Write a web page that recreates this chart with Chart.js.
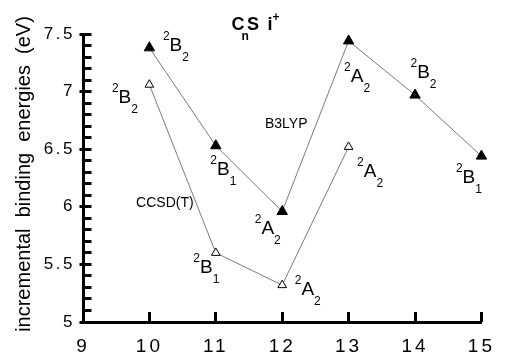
<!DOCTYPE html>
<html>
<head>
<meta charset="utf-8">
<script src="https://cdn.jsdelivr.net/npm/chart.js@4.4.1/dist/chart.umd.min.js"></script>
<style>
  html, body { margin: 0; padding: 0; background: #fff; }
  #wrap { width: 505px; height: 356px; }
</style>
</head>
<body>
<div id="wrap"><canvas id="c" width="505" height="356"></canvas></div>
<script>
// Cluster sizes n of CnSi+ and incremental binding energies (eV)
const b3lypSizes = [10, 11, 12, 13, 14, 15];
const b3lypEnergies = [7.38, 6.53, 5.96, 7.44, 6.97, 6.44];
const b3lypStates = ['²B₂', '²B₁', '²A₂', '²A₂', '²B₂', '²B₁'];

const ccsdtSizes = [10, 11, 12, 13];
const ccsdtEnergies = [7.06, 5.60, 5.32, 6.52];
const ccsdtStates = ['²B₂', '²B₁', '²A₂', '²A₂'];

const xTickValues = [9, 10, 11, 12, 13, 14, 15];
const yTickValues = [5, 5.5, 6, 6.5, 7, 7.5];

// Placement of the state labels around their points (pixels: dx to label start, dy to baseline)
const b3lypLabelOffsets = [[13.5, 3], [-5.5, 29], [-27.5, 23], [-4.5, 41], [-4.5, -17], [-25.5, 27]];
const ccsdtLabelOffsets = [[-37.5, 18], [-22.5, 20], [12.5, 10], [8.5, 30]];

const FAMILY = "'Liberation Sans', Arial, Helvetica, sans-serif";
const TITLE_FAMILY = "'Liberation Sans Narrow', 'Liberation Sans', Arial, sans-serif";

const toPoints = (xs, ys) => xs.map((x, i) => ({ x: x, y: ys[i] }));

const SUP = { '¹': '1', '²': '2', '³': '3', '⁴': '4' };
const SUB = { '₀': '0', '₁': '1', '₂': '2', '₃': '3' };

function drawTerm(ctx, term, x, baseline) {
  const mult = SUP[term[0]] || term[0];
  const sym = term[1];
  const idx = SUB[term[2]] || term[2];
  ctx.font = '12px ' + FAMILY;
  ctx.fillText(mult, x, baseline - 11);
  const w1 = ctx.measureText(mult).width;
  ctx.font = '19px ' + FAMILY;
  ctx.fillText(sym, x + w1, baseline);
  const w2 = ctx.measureText(sym).width;
  ctx.font = '12px ' + FAMILY;
  ctx.fillText(idx, x + w1 + w2, baseline + 10);
}

const decorations = {
  id: 'decorations',
  beforeDraw(chart) { chart.ctx.letterSpacing = '2.5px'; },
  beforeDatasetsDraw(chart) { chart.ctx.letterSpacing = '0px'; },
  afterDatasetsDraw(chart) { chart.ctx.letterSpacing = '3px'; },
  afterDraw(chart) {
    const ctx = chart.ctx;
    const xs = chart.scales.x, ys = chart.scales.y;
    const area = chart.chartArea;
    ctx.save();
    ctx.letterSpacing = '0px';

    // inward tick marks: minor every 0.1 on y, majors crossing the axis
    ctx.strokeStyle = '#000';
    ctx.lineWidth = 3;
    ctx.beginPath();
    for (let k = 0; k <= 25; k++) {
      const v = ys.min + k * 0.1;
      const py = Math.round(ys.getPixelForValue(v) - 1.5) + 1.5;
      const major = k % 5 === 0;
      ctx.moveTo(area.left - (major ? 3.5 : 0), py);
      ctx.lineTo(area.left + 8.5, py);
    }
    xTickValues.forEach(v => {
      const px = Math.round(xs.getPixelForValue(v) - 1.5) + 1.5;
      ctx.moveTo(px, area.bottom);
      ctx.lineTo(px, area.bottom - 10);
    });
    ctx.stroke();

    // electronic state labels
    ctx.fillStyle = '#000';
    ctx.textAlign = 'left';
    ctx.textBaseline = 'alphabetic';
    b3lypStates.forEach((s, i) => {
      const px = xs.getPixelForValue(b3lypSizes[i]);
      const py = ys.getPixelForValue(b3lypEnergies[i]);
      drawTerm(ctx, s, px + b3lypLabelOffsets[i][0], py + b3lypLabelOffsets[i][1]);
    });
    ccsdtStates.forEach((s, i) => {
      const px = xs.getPixelForValue(ccsdtSizes[i]);
      const py = ys.getPixelForValue(ccsdtEnergies[i]);
      drawTerm(ctx, s, px + ccsdtLabelOffsets[i][0], py + ccsdtLabelOffsets[i][1]);
    });

    // method names next to their curves
    ctx.font = '14px ' + FAMILY;
    ctx.fillText('B3LYP', xs.getPixelForValue(11.74), ys.getPixelForValue(6.68));
    ctx.fillText('CCSD(T)', xs.getPixelForValue(9.8), ys.getPixelForValue(6.0));

    // title CnSi+
    const t0 = chart.width / 2 - 21;
    ctx.font = 'bold 18px ' + TITLE_FAMILY;
    ctx.fillText('C', t0, 30);
    ctx.fillText('S', t0 + 15.5, 30);
    ctx.fillText('i', t0 + 36, 30);
    ctx.font = 'bold 12px ' + TITLE_FAMILY;
    ctx.fillText('n', t0 + 10, 40);
    ctx.fillText('+', t0 + 41, 21);

    // y axis title
    ctx.translate(30, 174);
    ctx.rotate(-Math.PI / 2);
    ctx.textAlign = 'center';
    ctx.font = '20px ' + FAMILY;
    ctx.fillText('incremental  binding  energies  (eV)', 0, 0);
    ctx.restore();
  }
};

new Chart(document.getElementById('c'), {
  type: 'scatter',
  data: {
    datasets: [
      {
        label: 'B3LYP',
        data: toPoints(b3lypSizes, b3lypEnergies),
        showLine: true,
        borderColor: '#7a7a7a',
        borderWidth: 1,
        tension: 0,
        pointStyle: 'triangle',
        pointRadius: 6,
        pointBackgroundColor: '#000',
        pointBorderColor: '#000',
        pointBorderWidth: 1,
        clip: false
      },
      {
        label: 'CCSD(T)',
        data: toPoints(ccsdtSizes, ccsdtEnergies),
        showLine: true,
        borderColor: '#7a7a7a',
        borderWidth: 1,
        tension: 0,
        pointStyle: 'triangle',
        pointRadius: 5,
        pointBackgroundColor: '#fff',
        pointBorderColor: '#000',
        pointBorderWidth: 1,
        clip: false
      }
    ]
  },
  options: {
    responsive: false,
    devicePixelRatio: 1,
    animation: false,
    events: [],
    layout: { padding: { left: 0, right: 17, top: 34, bottom: 0 } },
    plugins: {
      legend: { display: false },
      title: { display: false },
      tooltip: { enabled: false }
    },
    scales: {
      x: {
        type: 'linear',
        min: 9,
        max: 15,
        afterBuildTicks(scale) { scale.ticks = xTickValues.map(v => ({ value: v })); },
        ticks: {
          color: '#000',
          font: { family: FAMILY, size: 19 },
          padding: 13,
          maxRotation: 0,
          z: 1,
          callback: v => String(v)
        },
        grid: { display: false, drawTicks: false },
        border: { display: true, color: '#000', width: 3 },
        afterFit(scale) { scale.height = 34; }
      },
      y: {
        type: 'linear',
        min: 5,
        max: 7.5,
        afterBuildTicks(scale) { scale.ticks = yTickValues.map(v => ({ value: v })); },
        ticks: {
          color: '#000',
          font: { family: FAMILY, size: 17 },
          padding: 8,
          z: 0,
          callback: v => String(v)
        },
        grid: { display: false, drawTicks: false },
        border: { display: true, color: '#000', width: 3 },
        afterFit(scale) { scale.width = 83; }
      }
    }
  },
  plugins: [decorations]
});
</script>
</body>
</html>
